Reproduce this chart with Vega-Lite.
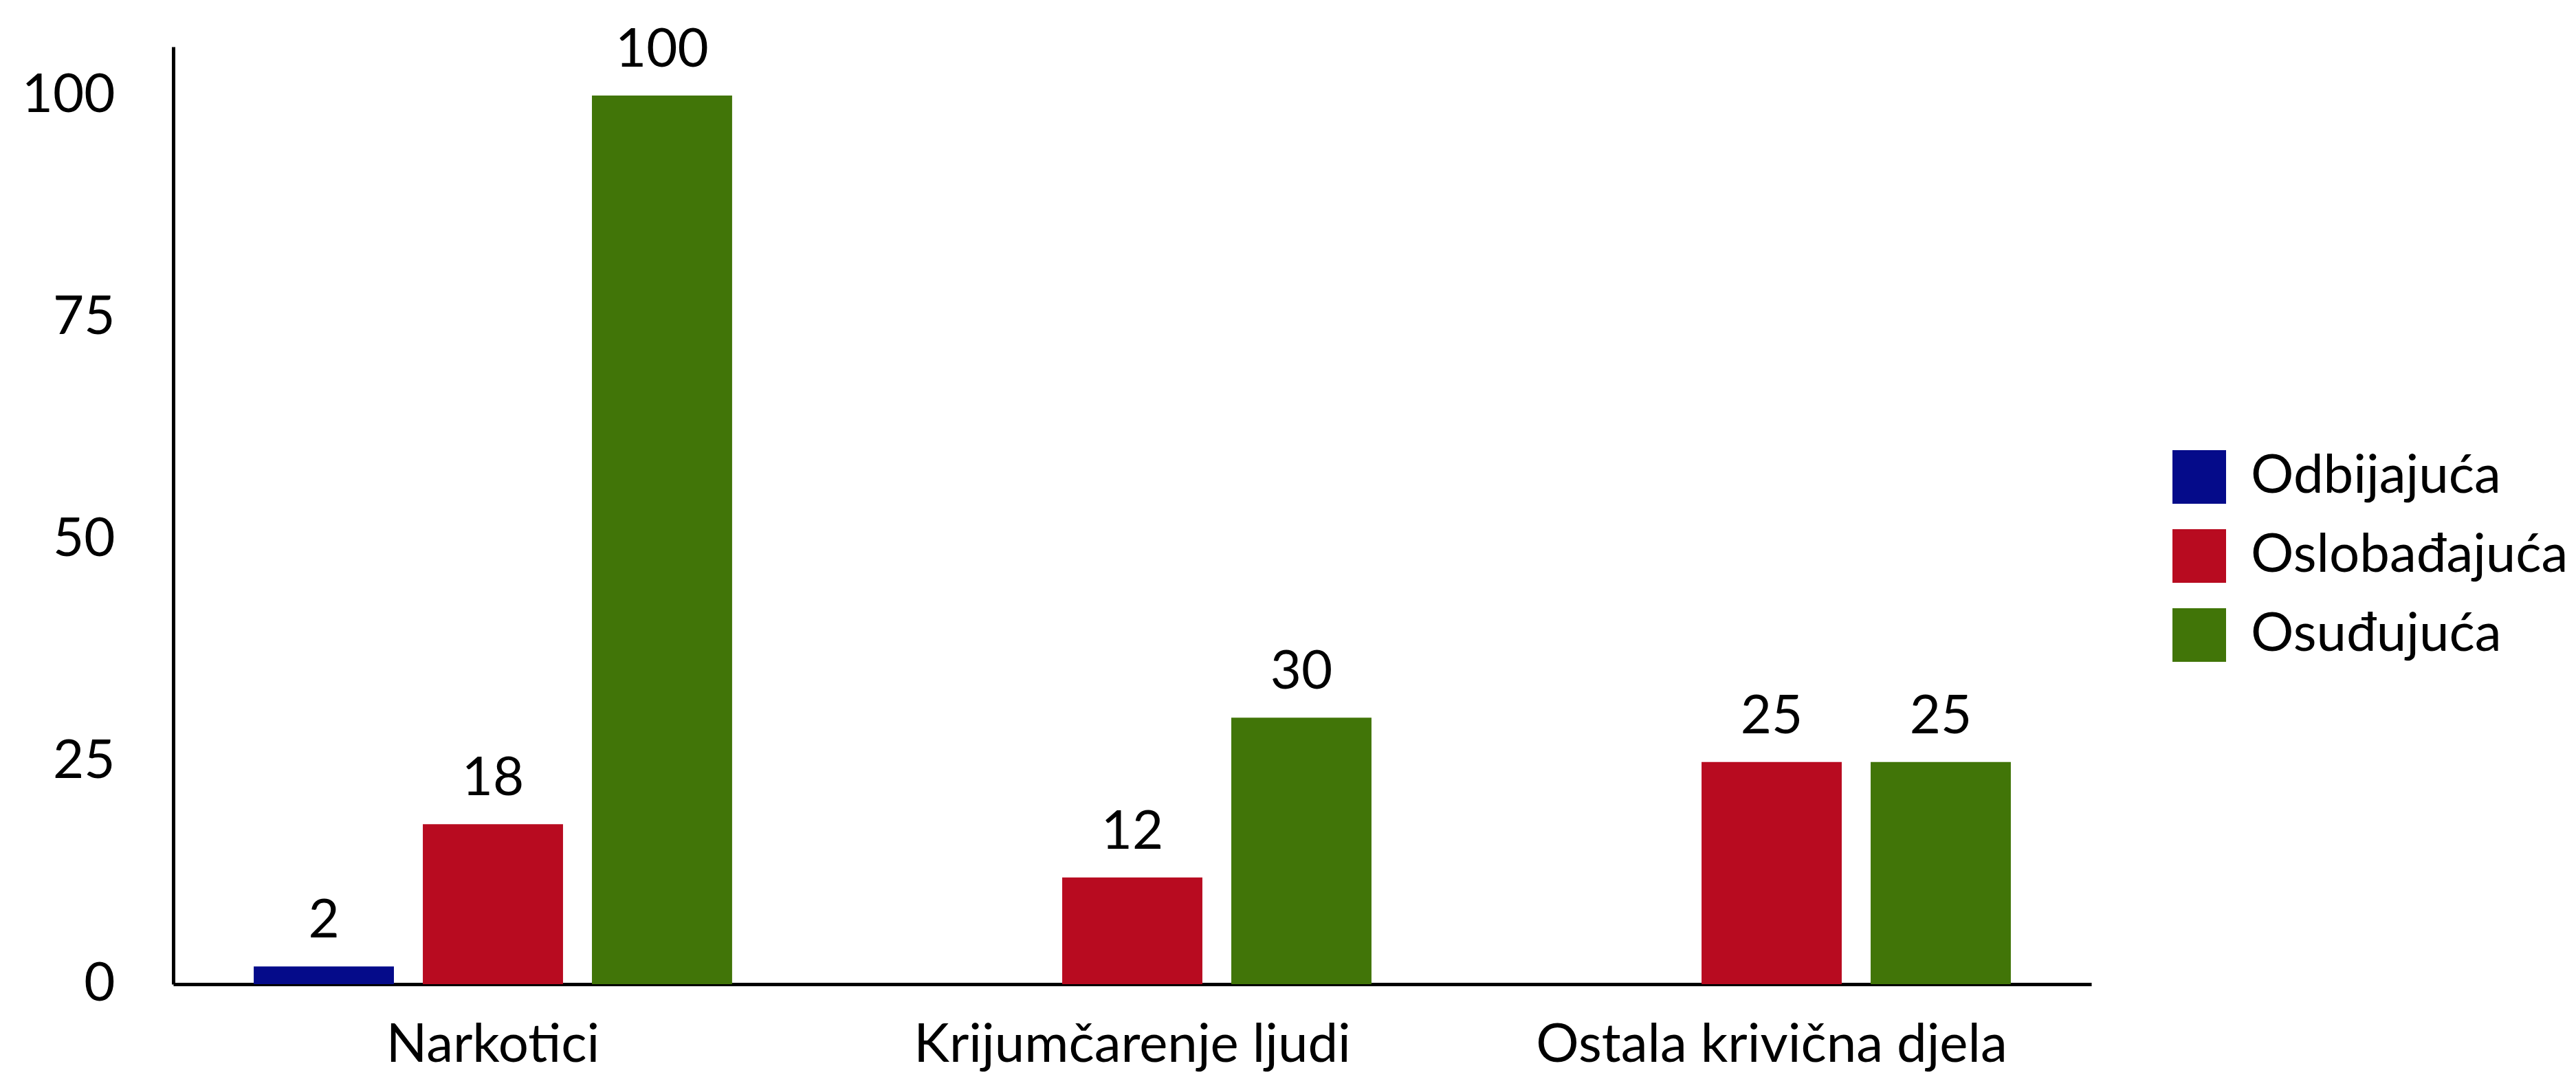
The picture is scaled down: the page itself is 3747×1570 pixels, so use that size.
{
  "$schema": "https://vega.github.io/schema/vega-lite/v6.json",
  "width": 2790,
  "height": 1364,
  "autosize": {"type": "none"},
  "padding": {"left": 252, "top": 68, "right": 705, "bottom": 138},
  "background": "white",
  "config": {
    "view": {"stroke": null},
    "font": "Lato",
    "axis": {"labelFont": "Lato", "labelColor": "black", "domainColor": "black", "domainWidth": 5, "ticks": false, "grid": false, "title": null, "labelFontSize": 78, "labelLimit": 0}
  },
  "data": {
    "values": [
      {"kategorija": "Narkotici", "presuda": "Odbijajuća", "broj": 2},
      {"kategorija": "Narkotici", "presuda": "Oslobađajuća", "broj": 18},
      {"kategorija": "Narkotici", "presuda": "Osuđujuća", "broj": 100},
      {"kategorija": "Krijumčarenje ljudi", "presuda": "Oslobađajuća", "broj": 12},
      {"kategorija": "Krijumčarenje ljudi", "presuda": "Osuđujuća", "broj": 30},
      {"kategorija": "Ostala krivična djela", "presuda": "Oslobađajuća", "broj": 25},
      {"kategorija": "Ostala krivična djela", "presuda": "Osuđujuća", "broj": 25}
    ]
  },
  "encoding": {
    "x": {
      "field": "kategorija", "type": "nominal",
      "sort": ["Narkotici", "Krijumčarenje ljudi", "Ostala krivična djela"],
      "scale": {"paddingInner": 0, "paddingOuter": 0},
      "axis": {"labelAngle": 0, "labelPadding": 50, "domainWidth": 5, "labelLimit": 0}
    },
    "xOffset": {
      "field": "presuda", "type": "nominal",
      "scale": {"domain": ["Odbijajuća", "Oslobađajuća", "Osuđujuća"], "paddingInner": 0.171, "paddingOuter": 0.476}
    },
    "y": {
      "field": "broj", "type": "quantitative",
      "scale": {"domain": [0, 105.5], "nice": false},
      "axis": {"values": [0, 25, 50, 75, 100], "labelPadding": 85, "domainWidth": 5}
    }
  },
  "layer": [
    {
      "mark": {"type": "bar"},
      "encoding": {
        "color": {
          "field": "presuda", "type": "nominal",
          "scale": {"domain": ["Odbijajuća", "Oslobađajuća", "Osuđujuća"], "range": ["#050B8A", "#B80B20", "#417508"]},
          "legend": {
            "title": null, "orient": "none", "legendX": 2908, "legendY": 587,
            "symbolType": "square", "symbolSize": 6084, "symbolStrokeWidth": 0,
            "labelFont": "Lato", "labelFontSize": 78, "labelColor": "black", "labelOffset": 36, "labelLimit": 0,
            "rowPadding": 37, "padding": 0
          }
        }
      }
    },
    {
      "mark": {"type": "text", "baseline": "alphabetic", "dy": -42, "fontSize": 78, "font": "Lato", "color": "black"},
      "encoding": {"text": {"field": "broj", "type": "quantitative"}}
    }
  ]
}
